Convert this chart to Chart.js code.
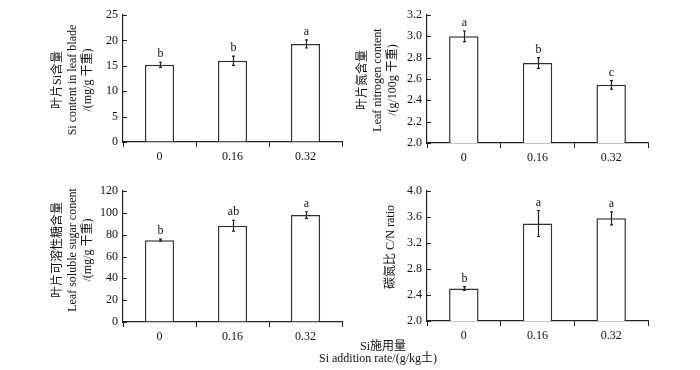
<!DOCTYPE html>
<html>
<head>
<meta charset="utf-8">
<script src="https://cdn.jsdelivr.net/npm/chart.js@4.4.1/dist/chart.umd.min.js"></script>
<style>
  body { margin: 0; background: #fff; }
  #wrap { position: relative; width: 700px; height: 370px; font-family: "Liberation Serif", "Noto Sans CJK SC", serif; color: #111; }
  .pane { position: absolute; width: 350px; height: 170px; }
  .ytitle { position: absolute; white-space: nowrap; font-size: 12px; line-height: 15px; text-align: center;
            transform: translate(-50%, -50%) rotate(-90deg); }
  .xtitle { position: absolute; white-space: nowrap; font-size: 12px; transform: translate(-50%, -50%); }
</style>
</head>
<body>
<div id="wrap">
  <div class="pane" style="left:0;top:0"><canvas id="c1"></canvas></div>
  <div class="pane" style="left:350px;top:0"><canvas id="c2"></canvas></div>
  <div class="pane" style="left:0;top:170px"><canvas id="c3"></canvas></div>
  <div class="pane" style="left:350px;top:170px"><canvas id="c4"></canvas></div>

  <div class="ytitle" style="left:72px;top:80px">叶片Si含量<br>Si content in leaf blade<br>/(mg/g 干重)</div>
  <div class="ytitle" style="left:377px;top:80px">叶片氮含量<br>Leaf nitrogen content<br>/(g/100g 干重)</div>
  <div class="ytitle" style="left:72px;top:250px">叶片可溶性糖含量<br>Leaf soluble sugar conent<br>/(mg/g 干重)</div>
  <div class="ytitle" style="left:390px;top:247px">碳氮比 C/N ratio</div>

  <div class="xtitle" style="left:383px;top:345px">Si施用量</div>
  <div class="xtitle" style="left:378px;top:357px">Si addition rate/(g/kg土)</div>
</div>

<script>
// Si addition rates (g/kg soil)
const rates = ['0', '0.16', '0.32'];

// Leaf Si content (mg/g DW)
const siValues = [15.2, 16.0, 19.3];
const siErrors = [0.5, 0.9, 0.8];
const siLetters = ['b', 'b', 'a'];

// Leaf nitrogen content (g/100g DW)
const nValues = [3.0, 2.75, 2.545];
const nErrors = [0.05, 0.05, 0.04];
const nLetters = ['a', 'b', 'c'];

// Leaf soluble sugar content (mg/g DW)
const sugarValues = [75, 88.2, 98];
const sugarErrors = [1, 5, 3];
const sugarLetters = ['b', 'ab', 'a'];

// C/N ratio
const cnValues = [2.5, 3.5, 3.58];
const cnErrors = [0.03, 0.2, 0.1];
const cnLetters = ['b', 'a', 'a'];

const serif = '"Liberation Serif", "Times New Roman", serif';

// error bars, letters and the inward y tick marks
const errorBarPlugin = {
    id: 'errorBars',
    afterDatasetsDraw(chart) {
        const ds = chart.data.datasets[0];
        const meta = chart.getDatasetMeta(0);
        const y = chart.scales.y;
        const c = chart.ctx;
        c.save();
        c.strokeStyle = '#222';
        c.lineWidth = 1.2;

        // y ticks point into the plot
        const ax = Math.round(chart.chartArea.left);
        c.beginPath();
        y.ticks.forEach((t) => {
            const py = Math.round(y.getPixelForValue(t.value)) + 0.5;
            c.moveTo(ax, py);
            c.lineTo(ax + 4, py);
        });
        c.stroke();

        c.fillStyle = '#111';
        c.font = '12px ' + serif;
        c.textAlign = 'center';
        c.textBaseline = 'bottom';
        meta.data.forEach((bar, i) => {
            const v = ds.data[i];
            const e = ds.errors[i];
            const yTop = y.getPixelForValue(v + e);
            const yBot = y.getPixelForValue(v - e);
            const x = Math.round(bar.x) + 0.5;
            c.beginPath();
            c.moveTo(x, yTop);
            c.lineTo(x, yBot);
            c.moveTo(x - 1.5, yTop);
            c.lineTo(x + 1.5, yTop);
            c.moveTo(x - 1.5, yBot);
            c.lineTo(x + 1.5, yBot);
            c.stroke();
            c.fillText(ds.letters[i], x, yTop - 2);
        });
        c.restore();
    }
};

function makePanel(id, values, errors, letters, yMin, yMax, step, decimals, area) {
    return new Chart(document.getElementById(id), {
        type: 'bar',
        data: {
            labels: rates,
            datasets: [{
                data: values,
                errors: errors,
                letters: letters,
                backgroundColor: '#fff',
                borderColor: '#333',
                borderWidth: 1.5,
                barPercentage: 0.4,
                categoryPercentage: 1.0
            }]
        },
        options: {
            responsive: true,
            maintainAspectRatio: false,
            animation: false,
            layout: {
                padding: { left: 0, top: area.top, right: 350 - area.right, bottom: 0 }
            },
            plugins: {
                legend: { display: false },
                tooltip: { enabled: false }
            },
            scales: {
                x: {
                    afterFit: (s) => { s.height = 170 - area.bottom; },
                    grid: {
                        offset: true,
                        drawOnChartArea: false,
                        tickLength: 5,
                        color: '#222',
                        tickColor: '#222'
                    },
                    border: { color: '#222', width: 1.2 },
                    ticks: { color: '#111', font: { family: serif, size: 12 }, padding: 3 }
                },
                y: {
                    min: yMin,
                    max: yMax,
                    afterFit: (s) => { s.width = area.left; },
                    grid: {
                        drawOnChartArea: false,
                        drawTicks: false
                    },
                    border: { color: '#222', width: 1.2 },
                    ticks: {
                        stepSize: step,
                        color: '#111',
                        font: { family: serif, size: 12 },
                        padding: 5,
                        callback: (v) => v.toFixed(decimals)
                    }
                }
            }
        },
        plugins: [errorBarPlugin]
    });
}

makePanel('c1', siValues, siErrors, siLetters, 0, 25, 5, 0,
    { left: 123, right: 342, top: 15, bottom: 142 });
makePanel('c2', nValues, nErrors, nLetters, 2.0, 3.2, 0.2, 1,
    { left: 77, right: 298, top: 15, bottom: 143 });
makePanel('c3', sugarValues, sugarErrors, sugarLetters, 0, 120, 20, 0,
    { left: 123, right: 342, top: 21, bottom: 152 });
makePanel('c4', cnValues, cnErrors, cnLetters, 2.0, 4.0, 0.4, 1,
    { left: 77, right: 298, top: 21, bottom: 151 });
</script>
</body>
</html>
